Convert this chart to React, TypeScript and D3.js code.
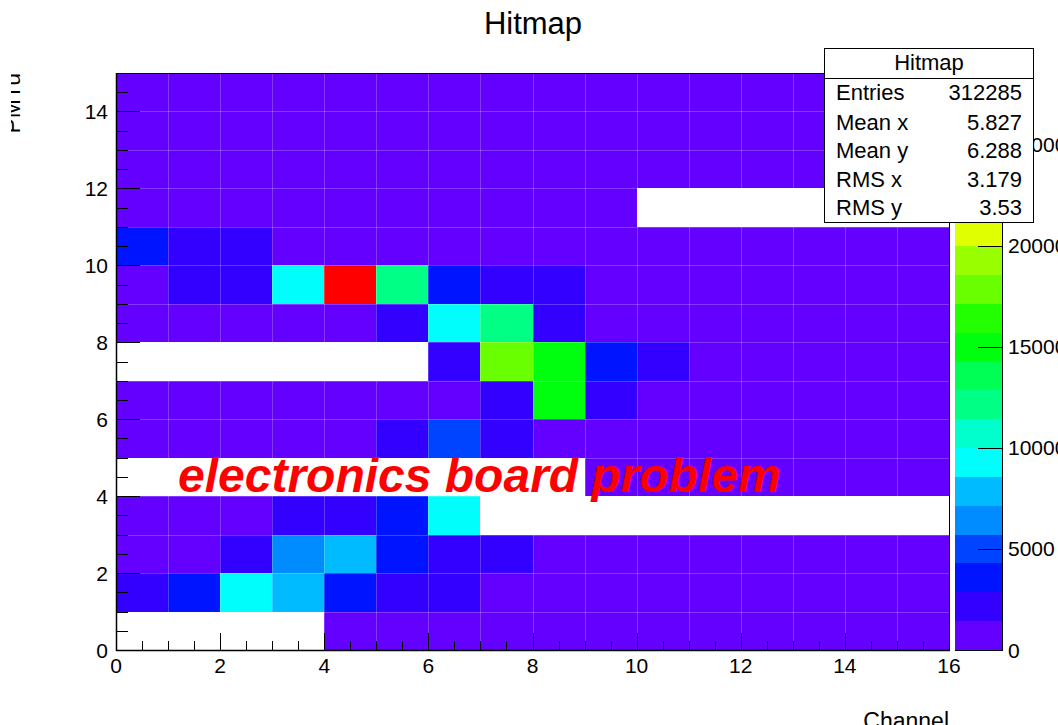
import React from "react";
import * as d3 from "d3";

// ---- data (bin contents, rows from y=0 upward, columns = channel 0..15) ----
const channels = [0, 1, 2, 3, 4, 5, 6, 7, 8, 9, 10, 11, 12, 13, 14, 15];
const planes = [0, 1, 2, 3, 4, 5, 6, 7, 8, 9, 10, 11, 12, 13, 14];

const row00 = [0, 0, 0, 0, 820, 760, 700, 690, 650, 640, 610, 600, 590, 580, 560, 540];
const row01 = [2150, 3550, 9350, 7900, 3650, 2400, 2250, 1250, 1100, 980, 900, 860, 820, 780, 740, 700];
const row02 = [1200, 1150, 2500, 6600, 7800, 3700, 2600, 2300, 1300, 1100, 950, 900, 850, 800, 760, 720];
const row03 = [1100, 1050, 1300, 2500, 2700, 3800, 9500, 0, 0, 0, 0, 0, 0, 0, 0, 0];
const row04 = [0, 0, 0, 0, 0, 0, 0, 0, 0, 1200, 1000, 950, 900, 850, 800, 760];
const row05 = [900, 950, 1000, 1100, 1250, 2300, 5100, 2400, 1350, 1150, 1000, 950, 900, 860, 820, 780];
const row06 = [850, 900, 950, 1000, 1050, 1150, 1300, 2600, 15200, 2200, 1300, 1050, 950, 900, 850, 800];
const row07 = [0, 0, 0, 0, 0, 0, 2450, 18000, 15300, 3600, 2500, 1300, 1100, 980, 920, 870];
const row08 = [950, 1000, 1050, 1100, 1150, 2400, 9400, 12200, 2500, 1350, 1150, 1050, 980, 930, 880, 830];
const row09 = [1250, 2400, 2600, 9300, 28560, 12100, 3500, 2500, 2300, 1350, 1150, 1050, 990, 940, 890, 850];
const row10 = [3600, 2650, 2450, 1350, 1300, 1250, 1200, 1150, 1100, 1050, 1000, 950, 900, 870, 840, 810];
const row11 = [1000, 980, 960, 940, 920, 900, 880, 860, 840, 820, 0, 0, 0, 0, 0, 0];
const row12 = [950, 930, 910, 890, 870, 850, 830, 810, 790, 770, 750, 730, 710, 690, 670, 650];
const row13 = [900, 880, 860, 840, 820, 800, 780, 760, 740, 720, 700, 680, 660, 640, 620, 600];
const row14 = [850, 830, 810, 790, 770, 750, 730, 710, 690, 670, 650, 630, 610, 590, 570, 550];
const hitRows = [row00, row01, row02, row03, row04, row05, row06, row07, row08, row09, row10, row11, row12, row13, row14];

// ROOT default (pretty) palette sampled at 20 contour levels
const palette = [
  "#6300ff", "#3300ff", "#0014ff", "#0044ff", "#008bff",
  "#00bbff", "#00fffc", "#00ffcc", "#00ff85", "#00ff55",
  "#00ff0e", "#22ff00", "#69ff00", "#99ff00", "#e0ff00",
  "#ffee00", "#ffa700", "#ff7700", "#ff3000", "#ff0000",
];

const xTickLabels = [0, 2, 4, 6, 8, 10, 12, 14, 16];
const yTickLabels = [0, 2, 4, 6, 8, 10, 12, 14];
const zTickLabels = [0, 5000, 10000, 15000, 20000, 25000];
const statsLabels = ["Entries", "Mean x", "Mean y", "RMS x", "RMS y"];
const statsValues = ["312285", "5.827", "6.288", "3.179", "3.53"];

const FONT = "'Liberation Sans', Arial, Helvetica, sans-serif";

export default function App() {
  const W = 1058, H = 725;
  const fl = 116, fr = 949, ft = 73, fb = 650;
  const cbl = 955, cbr = 1002;

  const x = d3.scaleLinear().domain([0, 16]).range([fl, fr]);
  const y = d3.scaleLinear().domain([0, 15]).range([fb, ft]);
  const zmax = d3.max(hitRows.flat()) as number;
  const z = d3.scaleLinear().domain([0, zmax]).range([fb, ft]);
  const color = d3.scaleQuantize<string>().domain([0, zmax]).range(palette);
  const bandStep = zmax / palette.length;

  const xMinor = d3.range(0, 16.001, 0.5);
  const yMinor = d3.range(0, 15.001, 0.5);
  const seamsX = d3.range(1, 16);
  const seamsY = d3.range(1, 15);

  const cells: { c: number; p: number; v: number }[] = [];
  planes.forEach((p, i) => channels.forEach((c, j) => {
    const v = hitRows[i][j];
    if (v > 0) cells.push({ c, p, v });
  }));

  const statsX = 824.5, statsY = 48.5, statsW = 209, statsH = 174;
  const rowBase = [99.5, 129.5, 158, 186.5, 215];

  return (
    <svg width={W} height={H} style={{ position: "absolute", left: 0, top: 0, display: "block", background: "#fff" }}
      fontFamily={FONT}>
      <defs>
        <clipPath id="ytitleclip"><rect x={11} y={0} width={60} height={H} /></clipPath>
      </defs>
      <rect x={0} y={0} width={W} height={H} fill="#fff" />

      {/* cells */}
      {cells.map((d, k) => (
        <rect key={k} x={x(d.c)} y={y(d.p + 1)} width={x(d.c + 1) - x(d.c)} height={y(d.p) - y(d.p + 1)}
          fill={color(d.v)} shapeRendering="crispEdges" />
      ))}
      {/* light seams between bins */}
      <g stroke="#fff" strokeOpacity={0.22} strokeWidth={1}>
        {seamsX.map((s) => <line key={"sx" + s} x1={Math.round(x(s)) + 0.5} x2={Math.round(x(s)) + 0.5} y1={ft} y2={fb} />)}
        {seamsY.map((s) => <line key={"sy" + s} y1={Math.round(y(s)) + 0.5} y2={Math.round(y(s)) + 0.5} x1={fl} x2={fr} />)}
      </g>

      {/* frame */}
      <rect x={fl + 0.5} y={ft + 0.5} width={fr - fl} height={fb - ft} fill="none" stroke="#000" strokeWidth={1} />
      <line x1={fl + 0.5} x2={fl + 0.5} y1={ft} y2={fb + 1} stroke="#000" strokeWidth={1.5} />
      <line x1={fl} x2={fr + 1} y1={fb + 0.5} y2={fb + 0.5} stroke="#000" strokeWidth={1.5} />

      {/* ticks */}
      <g stroke="#000" strokeWidth={1}>
        {yMinor.map((t) => {
          const major = yTickLabels.includes(t);
          const yy = Math.round(y(t)) + 0.5;
          return <line key={"yt" + t} x1={fl} x2={fl + (major ? 24 : 12)} y1={yy} y2={yy} />;
        })}
        {xMinor.map((t) => {
          const major = xTickLabels.includes(t);
          const xx = Math.round(x(t)) + 0.5;
          return <line key={"xt" + t} y1={fb} y2={fb - (major ? 17 : 9)} x1={xx} x2={xx} />;
        })}
      </g>
      <g fontSize={21} fill="#000">
        {yTickLabels.map((t) => (
          <text key={"yl" + t} x={108} y={y(t) + 7.5} textAnchor="end">{t}</text>
        ))}
        {xTickLabels.map((t) => (
          <text key={"xl" + t} x={x(t)} y={673} textAnchor="middle">{t}</text>
        ))}
      </g>

      {/* axis titles */}
      <text x={fr} y={729} textAnchor="end" fontSize={23} fill="#000">Channel</text>
      <g clipPath="url(#ytitleclip)">
        <text transform={`translate(20,${ft}) rotate(-90)`} textAnchor="end" fontSize={23} fill="#000">PMTu</text>
      </g>

      {/* colour bar */}
      {palette.map((c, i) => (
        <rect key={"cb" + i} x={cbl} y={z((i + 1) * bandStep)} width={cbr - cbl}
          height={z(i * bandStep) - z((i + 1) * bandStep)} fill={c} shapeRendering="crispEdges" />
      ))}
      <line x1={cbr + 0.5} x2={cbr + 0.5} y1={ft} y2={fb + 1} stroke="#000" strokeWidth={1} />
      <line x1={cbl} x2={cbr + 1} y1={fb + 0.5} y2={fb + 0.5} stroke="#000" strokeWidth={1} />
      <g stroke="#000" strokeWidth={1}>
        {zTickLabels.map((t) => {
          const yy = Math.round(z(t)) + 0.5;
          return <line key={"zt" + t} x1={cbr - 24} x2={cbr} y1={yy} y2={yy} />;
        })}
      </g>
      <g fontSize={21} fill="#000">
        {zTickLabels.map((t) => (
          <text key={"zl" + t} x={1008} y={z(t) + 7.5}>{t}</text>
        ))}
      </g>

      {/* annotation */}
      <text x={178} y={492} fontSize={48} fontWeight="bold" fontStyle="italic" fill="#ff0000">electronics board problem</text>

      {/* title */}
      <text x={533} y={34} textAnchor="middle" fontSize={31} fill="#000">Hitmap</text>

      {/* stats box */}
      <rect x={statsX} y={statsY} width={statsW} height={statsH} fill="#fff" stroke="#000" strokeWidth={1} />
      <line x1={statsX} x2={statsX + statsW} y1={78.5} y2={78.5} stroke="#000" strokeWidth={1} />
      <text x={statsX + statsW / 2} y={69.5} textAnchor="middle" fontSize={22} fill="#000">Hitmap</text>
      {statsLabels.map((l, i) => (
        <g key={"st" + i} fontSize={22} fill="#000">
          <text x={836} y={rowBase[i]}>{l}</text>
          <text x={1022} y={rowBase[i]} textAnchor="end">{statsValues[i]}</text>
        </g>
      ))}
    </svg>
  );
}
